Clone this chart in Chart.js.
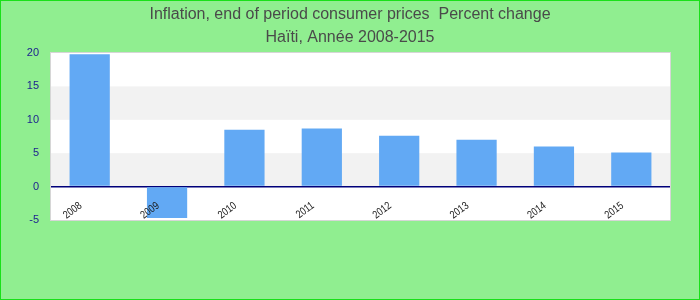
<!DOCTYPE html>
<html lang="fr">
<head>
  <meta charset="UTF-8">
  <title>Inflation Haïti 2008-2015</title>
  <script src="https://cdn.jsdelivr.net/npm/chart.js"></script>
  <style>
    body { margin: 0; }
    #wrap { width: 700px; height: 300px; position: relative; }
    canvas { display: block; background: #90ee90; outline: 1px solid #19e019; outline-offset: -1px; }
  </style>
</head>
<body>
  <div id="wrap"><canvas id="inflChart" width="700" height="300"></canvas></div>

  <script>
    // données
    const years = ['2008', '2009', '2010', '2011', '2012', '2013', '2014', '2015'];
    const inflation = [19.8, -4.7, 8.5, 8.7, 7.6, 7.0, 6.0, 5.1];
    const yTicks = [-5, 0, 5, 10, 15, 20];
    const titleLines = ['Inflation, end of period consumer prices  Percent change', 'Haïti, Année 2008-2015'];

    // bandes grises alternées, titre, cadre et étiquettes inclinées
    const decor = {
      id: 'decor',
      beforeDraw(chart) {
        const { ctx, chartArea: a, scales: { y } } = chart;
        ctx.save();
        ctx.fillStyle = '#ffffff';
        ctx.fillRect(a.left, a.top, a.right - a.left, a.bottom - a.top);
        ctx.fillStyle = '#f2f2f2';
        for (let i = 0; i < yTicks.length - 1; i++) {
          if (yTicks[i] === 0 || yTicks[i] === 10) {
            const y1 = y.getPixelForValue(yTicks[i + 1]);
            const y0 = y.getPixelForValue(yTicks[i]);
            ctx.fillRect(a.left, y1, a.right - a.left, y0 - y1);
          }
        }
        // titre sur deux lignes, centré sur toute la largeur
        ctx.font = '16px "Liberation Sans"';
        ctx.fillStyle = '#4a4a4a';
        ctx.textAlign = 'center';
        ctx.textBaseline = 'alphabetic';
        ctx.fillText(titleLines[0], chart.width / 2, 18.5);
        ctx.fillText(titleLines[1], chart.width / 2, 41.5);
        ctx.restore();
      },
      afterDraw(chart) {
        const { ctx, chartArea: a, scales: { x } } = chart;
        ctx.save();
        ctx.strokeStyle = '#d6d6d6';
        ctx.lineWidth = 1;
        ctx.strokeRect(a.left - 0.5, a.top - 0.5, a.right - a.left + 1, a.bottom - a.top + 1);
        ctx.font = '11px "Liberation Sans"';
        ctx.fillStyle = '#1a1a1a';
        ctx.textAlign = 'right';
        ctx.textBaseline = 'middle';
        years.forEach((yr, i) => {
          const px = x.getPixelForTick(i);
          ctx.save();
          ctx.translate(px - 9, a.bottom - 15.5);
          ctx.rotate(-37 * Math.PI / 180);
          ctx.scale(0.82, 1);
          ctx.fillText(yr, 0, 0);
          ctx.restore();
        });
        ctx.restore();
      }
    };

    new Chart(document.getElementById('inflChart'), {
      type: 'bar',
      data: {
        labels: years,
        datasets: [{
          data: inflation,
          backgroundColor: '#62a9f4',
          barPercentage: 0.52,
          categoryPercentage: 1
        }]
      },
      options: {
        responsive: false,
        animation: false,
        layout: { padding: { left: 0, right: 30, bottom: 80, top: 53 } },
        plugins: {
          legend: { display: false },
          tooltip: { enabled: false },
          title: { display: false }
        },
        scales: {
          x: { display: false },
          y: {
            min: -5,
            max: 20,
            afterFit(scale) { scale.width = 51; },
            afterBuildTicks(scale) { scale.ticks = yTicks.map(v => ({ value: v })); },
            border: { display: false },
            grid: {
              drawTicks: false,
              color: c => c.tick && c.tick.value === 0 ? '#00007a' : 'rgba(0,0,0,0)',
              lineWidth: c => c.tick && c.tick.value === 0 ? 1.5 : 0
            },
            ticks: {
              padding: 12,
              color: '#1c1c8f',
              font: { family: 'Liberation Sans', size: 11 }
            }
          }
        }
      },
      plugins: [decor]
    });
  </script>
</body>
</html>
